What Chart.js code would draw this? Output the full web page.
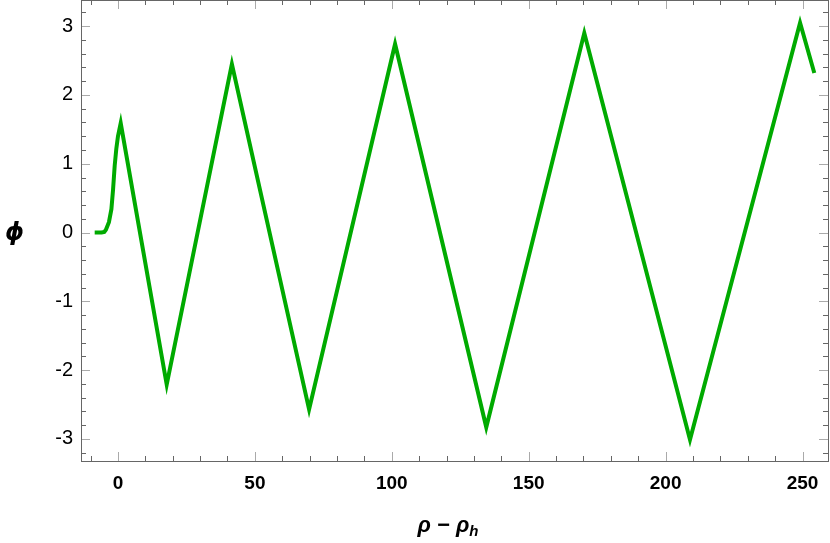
<!DOCTYPE html>
<html>
<head>
<meta charset="utf-8">
<script src="https://cdn.jsdelivr.net/npm/chart.js@4"></script>
<style>
  body { margin: 0; background: #fff; }
  #wrap { position: relative; width: 830px; height: 543px; }
  #xTitle { position: absolute; left: 0; width: 896px; top: 512px; text-align: center;
            font: bold italic 22px "Liberation Sans", Arial, sans-serif; color: #000; }
  #xTitle sub { font-size: 15px; vertical-align: -4px; }
  #yTitle { position: absolute; left: 5px; top: 218px;
            font: bold italic 24px "DejaVu Sans", sans-serif; color: #000; }
</style>
</head>
<body>
<div id="wrap">
  <canvas id="chartPhi" width="830" height="543"></canvas>
  <div id="xTitle">ρ − ρ<sub>h</sub></div>
  <div id="yTitle">ϕ</div>
</div>
<script>
// values
var rhoValues = [-8.5, -6, -5, -4.4, -3.3, -2.4, -1.8, -1.2, -0.6, 0, 1.0, 17.8, 41.6, 69.8, 101.2, 134.5, 170.3, 208.9, 249.1, 254.3];
var phiValues = [0, 0, 0.01, 0.04, 0.15, 0.34, 0.62, 0.97, 1.22, 1.40, 1.59, -2.21, 2.45, -2.57, 2.74, -2.83, 2.90, -3.01, 3.05, 2.32];
var xTickLabels = [0, 50, 100, 150, 200, 250];
var yTickLabels = [-3, -2, -1, 0, 1, 2, 3];

var points = rhoValues.map(function (r, i) { return { x: r, y: phiValues[i] }; });

// Mathematica-style frame with inward ticks
var framePlugin = {
    id: 'frame',
    afterDraw: function (chart) {
        var c = chart.ctx, a = chart.chartArea;
        var xs = chart.scales.x, ys = chart.scales.y;
        c.save();
        c.lineWidth = 1;
        function tick(x1, y1, x2, y2, color) {
            c.strokeStyle = color;
            c.beginPath(); c.moveTo(x1, y1); c.lineTo(x2, y2); c.stroke();
        }
        for (var v = -10; v <= 250; v += 10) {
            var px = Math.round(xs.getPixelForValue(v)) + 0.5;
            var major = v % 50 === 0;
            var len = major ? 9 : 5, col = major ? '#aaa' : '#666';
            tick(px, a.bottom, px, a.bottom - len, col);
            tick(px, a.top, px, a.top + len, col);
        }
        for (var k = -16; k <= 16; k++) {
            var val = k / 5;
            var py = Math.round(ys.getPixelForValue(val)) + 0.5;
            var maj = k % 5 === 0;
            var l = maj ? 9 : 5, cl = maj ? '#aaa' : '#666';
            tick(a.left, py, a.left + l, py, cl);
            tick(a.right, py, a.right - l, py, cl);
        }
        c.strokeStyle = '#666';
        c.strokeRect(Math.round(a.left) + 0.5, Math.round(a.top) + 0.5,
                     Math.round(a.right - a.left), Math.round(a.bottom - a.top));
        c.restore();
    }
};

var ctx = document.getElementById('chartPhi').getContext('2d');
var chartPhi = new Chart(ctx, {
    type: 'line',
    data: {
        datasets: [{
            data: points,
            borderColor: '#00aa00',
            borderWidth: 4,
            pointRadius: 0,
            tension: 0,
            fill: false
        }]
    },
    options: {
        responsive: false,
        animation: false,
        layout: { padding: { top: 0, right: 2, left: 0, bottom: 0 } },
        plugins: { legend: { display: false }, tooltip: { enabled: false } },
        scales: {
            x: {
                type: 'linear',
                min: -13.5,
                max: 259.3,
                afterBuildTicks: function (s) { s.ticks = xTickLabels.map(function (v) { return { value: v }; }); },
                afterFit: function (s) { s.height = 82; s.paddingLeft = 0; s.paddingRight = 0; },
                grid: { display: false, drawTicks: false },
                border: { display: false },
                ticks: {
                    padding: 11,
                    color: '#000',
                    maxRotation: 0,
                    font: { family: 'Liberation Sans', size: 19, weight: 'bold' }
                }
            },
            y: {
                min: -3.32,
                max: 3.38,
                afterBuildTicks: function (s) { s.ticks = yTickLabels.map(function (v) { return { value: v }; }); },
                afterFit: function (s) { s.width = 81; s.paddingTop = 0; s.paddingBottom = 0; },
                grid: { display: false, drawTicks: false },
                border: { display: false },
                ticks: {
                    padding: 8,
                    color: '#000',
                    font: { family: 'Liberation Sans', size: 20 }
                }
            }
        }
    },
    plugins: [framePlugin]
});
</script>
</body>
</html>
